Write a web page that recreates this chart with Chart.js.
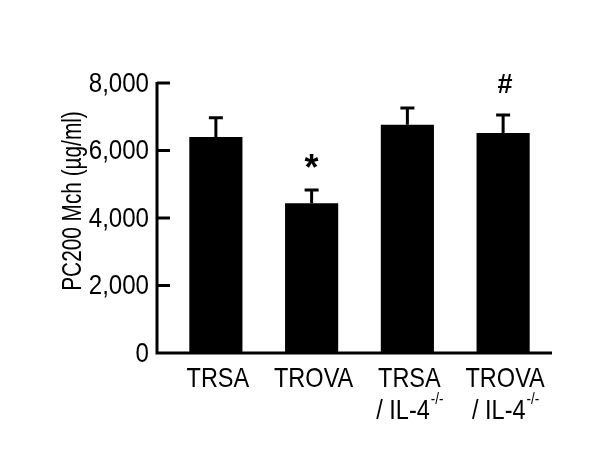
<!DOCTYPE html>
<html>
<head>
<meta charset="utf-8">
<script src="https://cdn.jsdelivr.net/npm/chart.js@4.4.0/dist/chart.umd.min.js"></script>
<style>
  body { margin: 0; background: #fff; }
  #wrap { width: 600px; height: 450px; }
</style>
</head>
<body>
<div id="wrap"><canvas id="myChart" width="600" height="450"></canvas></div>
<script>
    // values
    var groups = ['TRSA', 'TROVA', 'TRSA', 'TROVA'];
    var groupSub = ['', '', '/ IL-4', '/ IL-4'];
    var means = [6400, 4440, 6760, 6520];
    var errTops = [7000, 4860, 7290, 7080];
    var marks = ['', '*', '', '#'];
    var yTicks = [0, 2000, 4000, 6000, 8000];
    var yTitle = 'PC200 Mch (\u00b5g/ml)';

    var font = '"Liberation Sans", Arial, sans-serif';

    function fmt(v) {
        return v.toLocaleString('en-US');
    }

    // condensed text: scale x around the anchor point
    function narrowText(ctx, txt, x, y, sq) {
        ctx.save();
        ctx.translate(x, y);
        ctx.scale(sq, 1);
        ctx.fillText(txt, 0, 0);
        ctx.restore();
    }

    var axesPlugin = {
        id: 'axesPlugin',
        afterDatasetsDraw: function(chart) {
            var ctx = chart.ctx;
            var xs = chart.scales.x;
            var ys = chart.scales.y;
            var area = chart.chartArea;
            var axisX = area.left - 11;

            ctx.save();
            ctx.strokeStyle = '#000';
            ctx.fillStyle = '#000';
            ctx.lineWidth = 3;
            ctx.lineCap = 'butt';

            // error bars
            for (var i = 0; i < means.length; i++) {
                var cx = xs.getPixelForValue(i);
                var y0 = ys.getPixelForValue(means[i]);
                var y1 = ys.getPixelForValue(errTops[i]);
                ctx.beginPath();
                ctx.moveTo(cx, y0);
                ctx.lineTo(cx, y1);
                ctx.moveTo(cx - 7, y1 + 1);
                ctx.lineTo(cx + 7, y1 + 1);
                ctx.stroke();
            }

            // axis frame
            ctx.beginPath();
            ctx.moveTo(axisX, ys.getPixelForValue(8000) - 1);
            ctx.lineTo(axisX, area.bottom);
            ctx.lineTo(area.right + 1, area.bottom);
            ctx.stroke();

            // inward tick marks + labels
            ctx.font = '28px ' + font;
            ctx.textAlign = 'right';
            ctx.textBaseline = 'middle';
            yTicks.forEach(function(t) {
                var py = ys.getPixelForValue(t);
                if (t > 0) {
                    ctx.beginPath();
                    ctx.moveTo(axisX, py);
                    ctx.lineTo(axisX + 13, py);
                    ctx.stroke();
                }
                narrowText(ctx, fmt(t), axisX - 8, py + 1, 0.86);
            });

            // y title
            ctx.save();
            ctx.translate(74, 201);
            ctx.rotate(-Math.PI / 2);
            ctx.textAlign = 'center';
            ctx.font = '27px ' + font;
            narrowText(ctx, yTitle, 0, 0, 0.77);
            ctx.restore();

            // category labels
            ctx.textBaseline = 'middle';
            var sq = 0.84;
            for (var j = 0; j < groups.length; j++) {
                var px = xs.getPixelForValue(j);
                ctx.font = '28px ' + font;
                ctx.textAlign = 'center';
                narrowText(ctx, groups[j], px + 2, area.bottom + 26, sq);
                if (groupSub[j]) {
                    var w = ctx.measureText(groupSub[j]).width * sq;
                    ctx.font = '16px ' + font;
                    var sw = ctx.measureText('-/-').width * sq;
                    var start = px + 2 - (w + sw) / 2;
                    ctx.font = '28px ' + font;
                    ctx.textAlign = 'left';
                    narrowText(ctx, groupSub[j], start, area.bottom + 58, sq);
                    ctx.font = '16px ' + font;
                    narrowText(ctx, '-/-', start + w + 1, area.bottom + 47, sq);
                }
            }

            // significance marks
            for (var k = 0; k < marks.length; k++) {
                if (!marks[k]) continue;
                var mx = xs.getPixelForValue(k);
                var my = ys.getPixelForValue(errTops[k]);
                ctx.textAlign = 'center';
                if (marks[k] === '*') {
                    ctx.font = 'bold 36px ' + font;
                    ctx.fillText(marks[k], mx, my - 19);
                } else {
                    ctx.font = 'bold 27px ' + font;
                    ctx.fillText(marks[k], mx + 2, my - 29);
                }
            }
            ctx.restore();
        }
    };

    var ctx = document.getElementById('myChart').getContext('2d');
    var myChart = new Chart(ctx, {
        type: 'bar',
        data: {
            labels: groups.map(function(g, i) { return g + ' ' + groupSub[i]; }),
            datasets: [
                {
                    label: 'PC200',
                    data: means,
                    backgroundColor: '#000',
                    borderWidth: 0,
                    categoryPercentage: 1,
                    barPercentage: 0.555
                }
            ]
        },
        options: {
            responsive: false,
            animation: false,
            layout: {
                padding: { left: 168, right: 49, top: 83, bottom: 97 }
            },
            scales: {
                x: { display: false },
                y: { display: false, min: 0, max: 8000 }
            },
            plugins: {
                legend: { display: false },
                tooltip: { enabled: false }
            }
        },
        plugins: [axesPlugin]
    });
</script>
</body>
</html>
